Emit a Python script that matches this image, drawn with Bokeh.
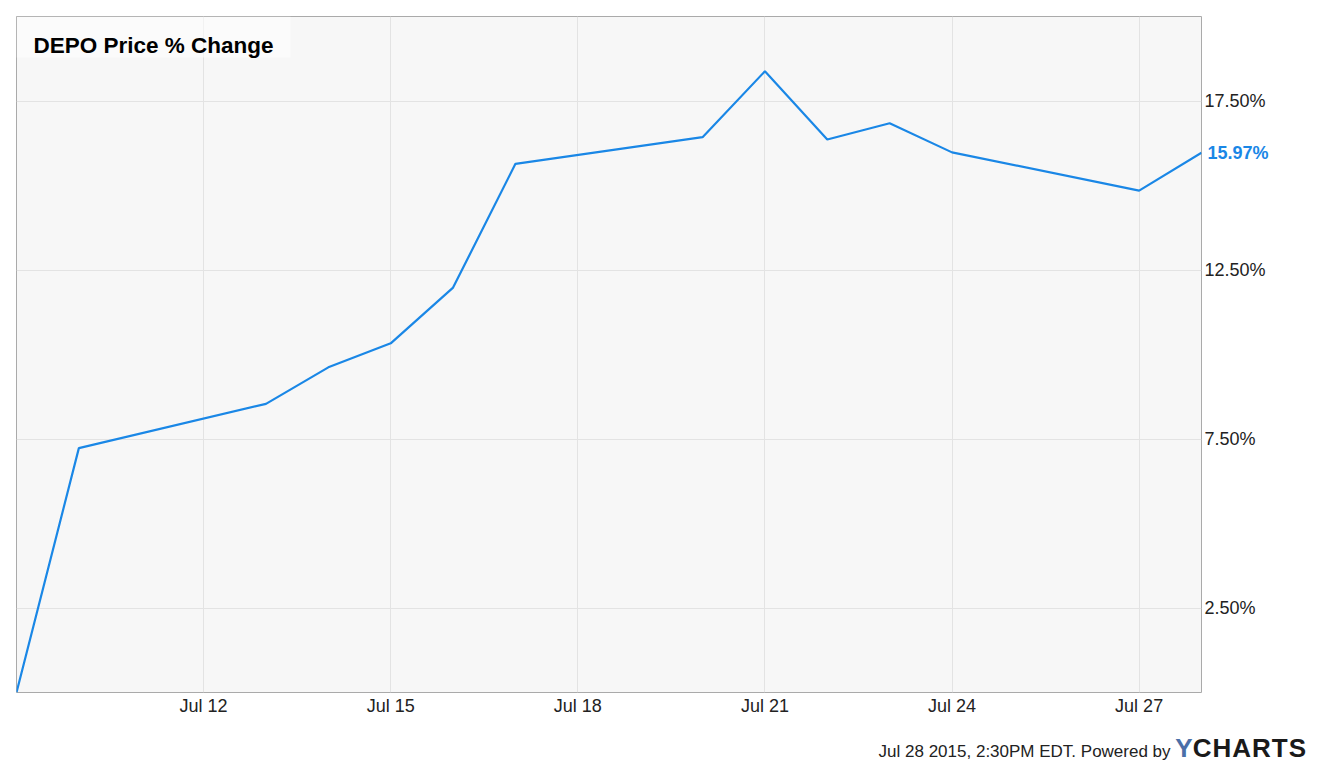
import pandas as pd
from bokeh.plotting import figure
from bokeh.layouts import column
from bokeh.models import (Range1d, FixedTicker, DatetimeTickFormatter, PrintfTickFormatter,
                          Label, BoxAnnotation, ColumnDataSource, LinearAxis, Div)
from bokeh.embed import file_html
from bokeh.resources import INLINE

# ---- data ----
dates = ["2015-07-09", "2015-07-10", "2015-07-13", "2015-07-14", "2015-07-15",
         "2015-07-16", "2015-07-17", "2015-07-20", "2015-07-21", "2015-07-22",
         "2015-07-23", "2015-07-24", "2015-07-27", "2015-07-28"]
pct_change = [0.0, 7.23, 8.54, 9.62, 10.33, 11.98, 15.64, 16.43, 18.38, 16.36,
              16.84, 15.98, 14.85, 15.97]
x_tick_dates = ["2015-07-12", "2015-07-15", "2015-07-18", "2015-07-21",
                "2015-07-24", "2015-07-27"]
y_ticks = [2.5, 7.5, 12.5, 17.5]
title_text = "DEPO Price % Change"
footer_text = "Jul 28 2015, 2:30PM EDT. Powered by"

FONT = "Liberation Sans"
LINE_COLOR = "#1a87e6"

dt = pd.to_datetime(dates)
src = ColumnDataSource(dict(x=dt, y=pct_change))

p = figure(width=1321, height=730, x_axis_type="datetime", y_axis_location="right",
           output_backend="svg", toolbar_location=None,
           x_range=Range1d(pd.Timestamp("2015-07-09"), pd.Timestamp("2015-07-28")),
           y_range=Range1d(0, 20),
           min_border_left=16, min_border_top=16, min_border_right=120, min_border_bottom=38)

p.background_fill_color = "#f7f7f7"
p.border_fill_color = "white"
p.outline_line_color = "#aaaaaa"
p.outline_line_width = 1

p.line("x", "y", source=src, line_color=LINE_COLOR, line_width=2.2)

tick_ms = [pd.Timestamp(d).value // 10**6 for d in x_tick_dates]
p.xaxis.ticker = FixedTicker(ticks=tick_ms)
p.xaxis.formatter = DatetimeTickFormatter(days="%b %d", months="%b %d", hours="%b %d")
p.yaxis.ticker = FixedTicker(ticks=y_ticks)
p.yaxis.formatter = PrintfTickFormatter(format="%.2f%%")

# last-value marker on the right axis side
val_axis = LinearAxis(ticker=FixedTicker(ticks=[pct_change[-1]]),
                      formatter=PrintfTickFormatter(format="%.2f%%"))
p.add_layout(val_axis, "right")

for ax in (p.xaxis[0], p.yaxis[0], val_axis):
    ax.axis_line_color = None
    ax.major_tick_line_color = None
    ax.minor_tick_line_color = None
    ax.major_tick_out = 0
    ax.major_tick_in = 0
    ax.minor_tick_out = 0
    ax.major_label_text_font = FONT
    ax.major_label_text_font_size = "18px"
    ax.major_label_text_color = "#222222"
p.xaxis[0].major_label_standoff = 3
p.yaxis[0].major_label_standoff = 3
val_axis.major_label_text_font_style = "bold"
val_axis.major_label_text_color = LINE_COLOR
val_axis.major_label_standoff = -61
# boxed label, if this Bokeh version supports label backgrounds on axes
for attr, v in (("major_label_background_fill_color", "white"),
                ("major_label_border_line_color", "#aaaaaa"),
                ("major_label_padding", 3)):
    try:
        setattr(val_axis, attr, v)
    except Exception:
        pass

p.xgrid.grid_line_color = "#e3e3e3"
p.ygrid.grid_line_color = "#e3e3e3"

# title box
p.add_layout(BoxAnnotation(left=0, right=274, top=676, bottom=635,
                           left_units="screen", right_units="screen",
                           top_units="screen", bottom_units="screen",
                           fill_color="white", fill_alpha=0.55, line_color=None))
p.add_layout(Label(x=17, y=647.5, x_units="screen", y_units="screen", text=title_text,
                   text_font=FONT, text_font_size="22.5px", text_font_style="bold",
                   text_color="black", text_baseline="alphabetic"))

footer_html = (
    f'<div style="width:1302px;font-family:\'{FONT}\';font-size:17px;color:#222222;'
    f'text-align:right;line-height:26px;margin-top:0px;white-space:nowrap;">'
    f'{footer_text} '
    f'<span style="font-family:\'{FONT}\';font-size:26px;font-weight:bold;color:#4b6fa8;">Y</span>'
    f'<span style="font-family:\'{FONT}\';font-size:26px;font-weight:bold;color:#1a1a1a;'
    f'letter-spacing:1px;">CHARTS</span></div>'
)
footer = Div(text=footer_html, width=1321, height=41)

layout = column(p, footer)

open("out.html", "w").write(file_html(layout, INLINE))
